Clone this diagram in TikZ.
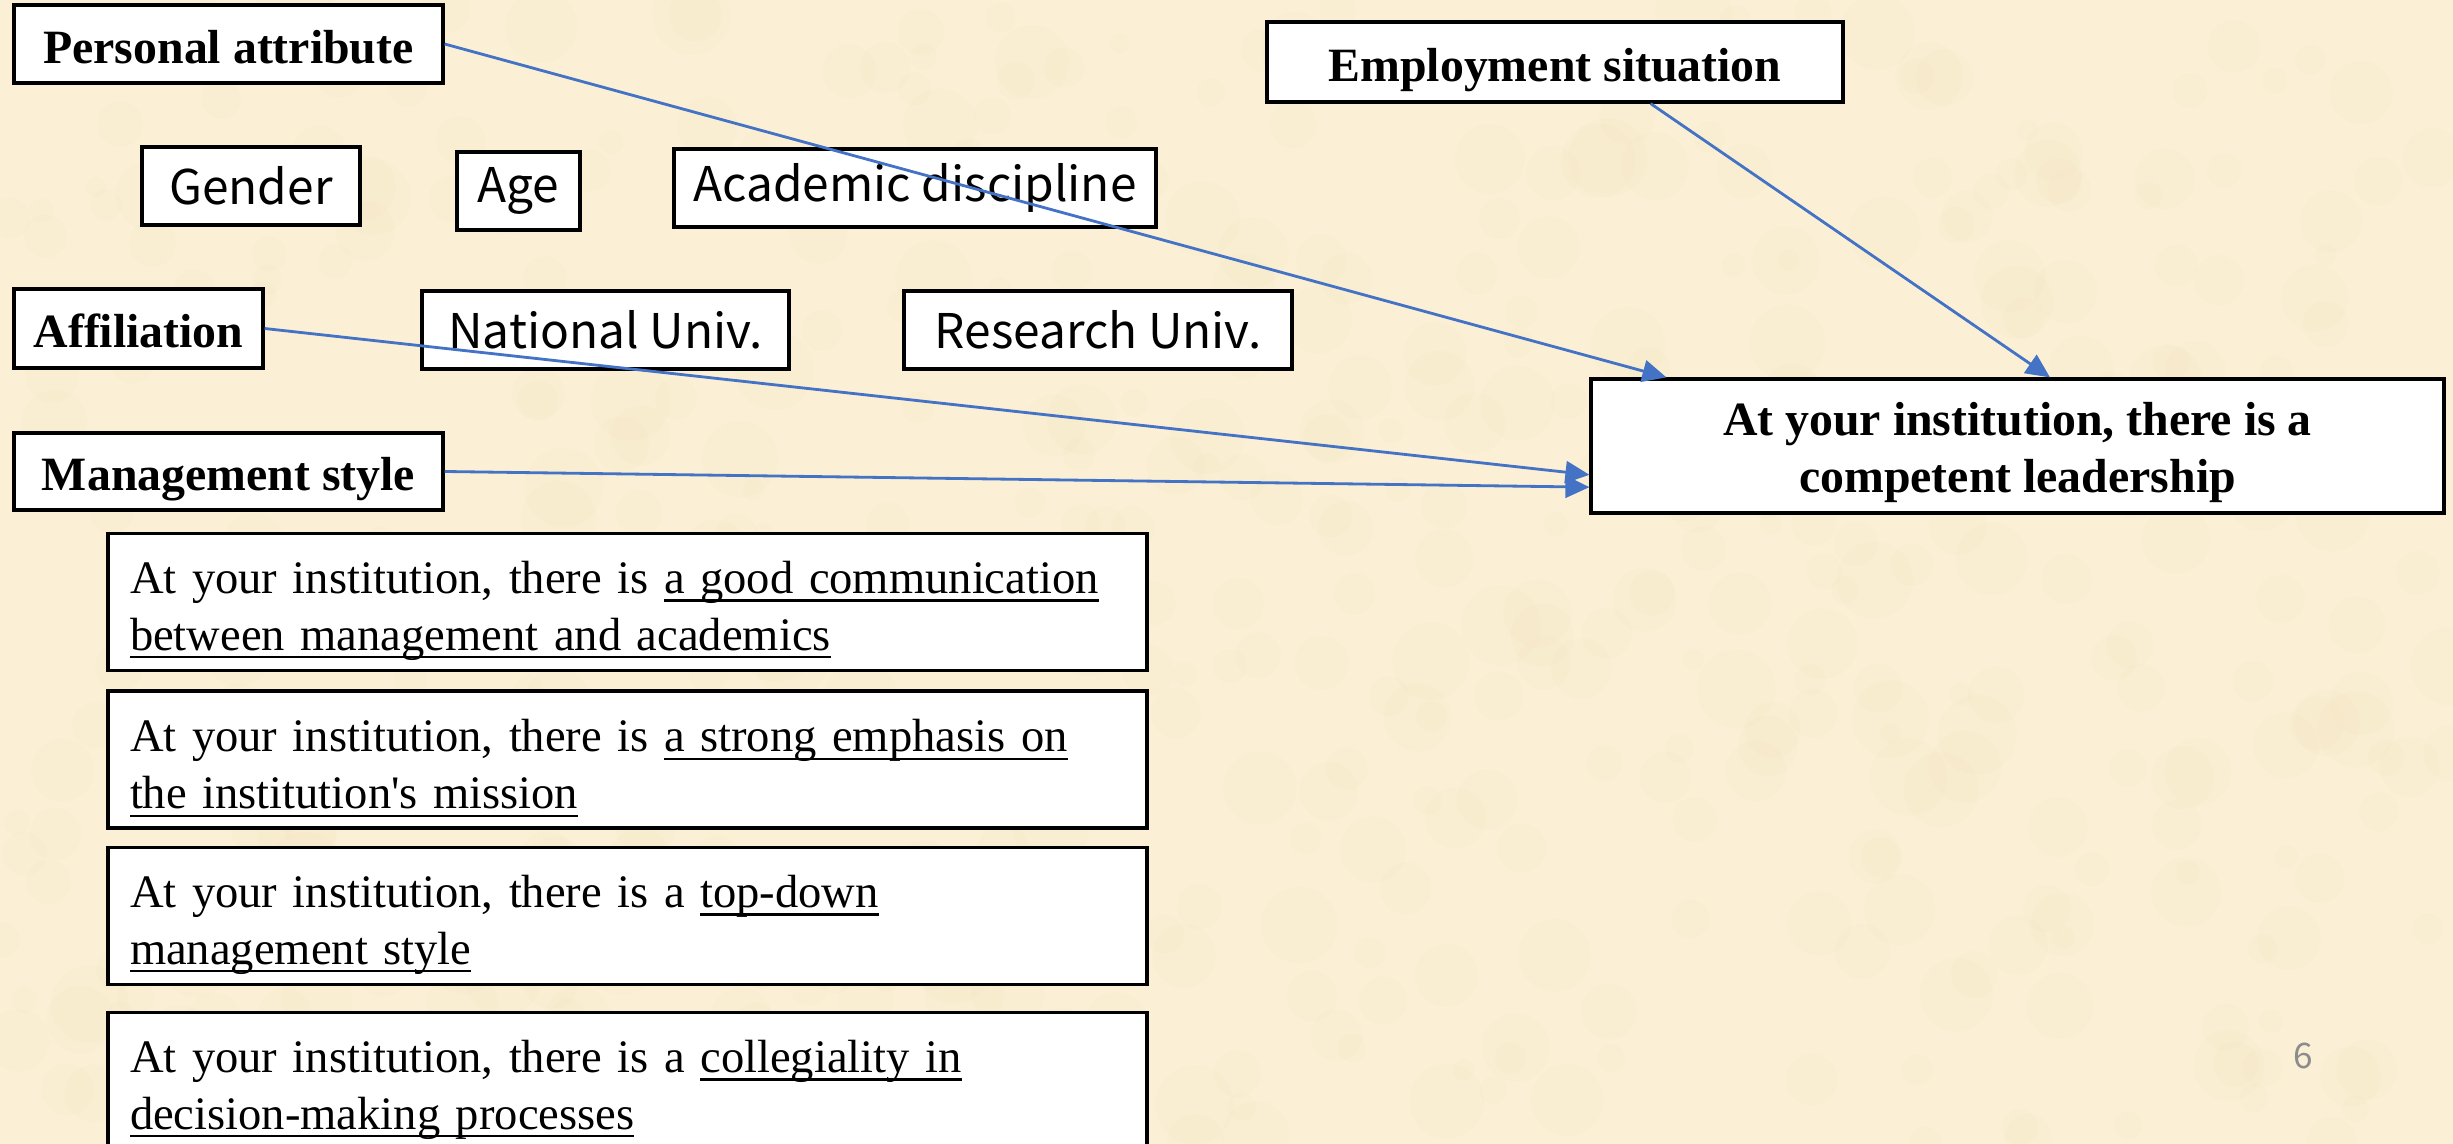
\documentclass[tikz,border=0pt]{standalone}
\usepackage{fontspec}
\setmainfont{Liberation Serif}
\newfontfamily\gothic{Noto Sans CJK JP}
\usetikzlibrary{arrows.meta,calc}
\definecolor{parch}{RGB}{251,240,213}
\definecolor{parchdark}{RGB}{232,214,168}
\definecolor{arrowblue}{RGB}{68,114,196}
\definecolor{pagegray}{RGB}{140,140,140}
\newcommand\undl[1]{\leavevmode\setbox0\hbox{#1}\rlap{\rule[-2.4pt]{\wd0}{0.6pt}}\box0}

\begin{document}
\begin{tikzpicture}[x=1cm,y=-1cm,
	box/.style={draw=black,line width=0.9pt,fill=white,inner sep=0pt},
	head/.style={box,font=\fontsize{13.6}{16.2}\selectfont\bfseries,text height=11.5pt,text depth=0.5pt},
	item/.style={box,font=\gothic\fontsize{13.6}{16}\selectfont},
	quest/.style={box,font=\fontsize{13.25}{16.2}\selectfont,inner xsep=0.22cm,text width=9.95cm,align=left,minimum height=1.37cm,execute at begin node=\rule{0pt}{14pt}},
	link/.style={-{Triangle[length=2.4mm,width=2.2mm]},draw=arrowblue,line width=0.8pt}]
	
	\useasboundingbox (0,0) rectangle (24.53,11.44);
	\fill [parch] (0,0) rectangle (24.53,11.44);
	\begin{scope}
		\clip (0,0) rectangle (24.53,11.44);
		\pgfmathsetseed{7}
		\foreach \i in {1,...,500}
			\fill [parchdark,opacity=0.06] (24.53*rnd,11.44*rnd) circle [radius=0.1+0.3*rnd];
	\end{scope}
	
	% left column
	\node [head,minimum width=4.29cm,minimum height=0.78cm] (pers) at (2.285,0.44) {Personal attribute};
	\node [item,minimum width=2.18cm,minimum height=0.78cm] (gender) at (2.51,1.86) {Gender};
	\node [item,minimum width=1.23cm,minimum height=0.78cm] (age) at (5.185,1.91) {Age};
	\node [item,minimum width=4.82cm,minimum height=0.78cm] (disc) at (9.15,1.88) {Academic discipline};
	\node [head,minimum width=2.49cm,minimum height=0.79cm] (affil) at (1.385,3.285) {Affiliation};
	\node [item,minimum width=3.67cm,minimum height=0.78cm] (natl) at (6.055,3.30) {National Univ.};
	\node [item,minimum width=3.88cm,minimum height=0.78cm] (resu) at (10.98,3.30) {Research Univ.};
	\node [head,minimum width=4.29cm,minimum height=0.77cm] (mgmt) at (2.285,4.715) {Management style};
	
	\node [quest] (q1) at (6.275,6.02) {At your institution, there is \undl{a good communication}\\\undl{between management and academics}};
	\node [quest] (q2) at (6.275,7.595) {At your institution, there is \undl{a strong emphasis on}\\\undl{the institution\textquotesingle s mission}};
	\node [quest] (q3) at (6.275,9.16) {At your institution, there is a \undl{top-down}\\\undl{management style}};
	\node [quest] (q4) at (6.275,10.81) {At your institution, there is a \undl{collegiality in}\\\undl{decision-making processes}};
	
	% right side
	\node [head,minimum width=5.76cm,minimum height=0.80cm] (emp) at (15.55,0.62) {Employment situation};
	\node [box,font=\fontsize{13.6}{16.2}\selectfont\bfseries,align=center,minimum width=8.53cm,minimum height=1.34cm] (target) at (20.175,4.46) {\rule{0pt}{13pt}At your institution, there is a\\competent leadership};
	
	\coordinate (tA) at ($(target.north west)!0.09!(target.north east)$);
	\coordinate (tE) at ($(target.north west)!0.538!(target.north east)$);
	\coordinate (tF) at ($(target.north west)!0.71!(target.south west)$);
	\coordinate (tM) at ($(target.north west)!0.80!(target.south west)$);
	\coordinate (sE) at ($(emp.south west)!0.665!(emp.south east)$);
	
	\draw [link] (pers.east) -- (tA);
	\draw [link] (sE) -- (tE);
	\draw [link] (affil.east) -- (tF);
	\draw [link] (mgmt.east) -- (tM);
	
	\node [font=\gothic\fontsize{10}{12}\selectfont,text=pagegray] (pnum) at (23.03,10.56) {6};
	
\end{tikzpicture}
\end{document}
